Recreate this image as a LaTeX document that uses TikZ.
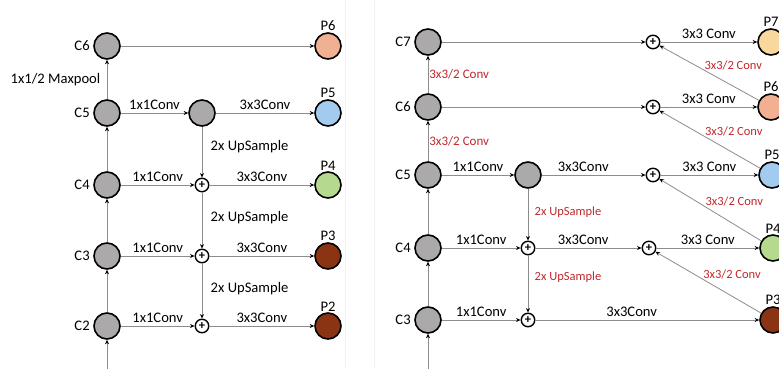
\documentclass[tikz,border=0pt]{standalone}
\usepackage{fontspec}
\setmainfont{Carlito}
\definecolor{NodeGray}{HTML}{ABA9AA}
\definecolor{LineGray}{HTML}{8C8C8C}
\definecolor{ConvRed}{HTML}{C0272D}
\definecolor{PSalmon}{HTML}{F2B093}
\definecolor{PBlue}{HTML}{A2CBEF}
\definecolor{PGreen}{HTML}{B5DA8E}
\definecolor{PBrown}{HTML}{8A3414}
\definecolor{PYellow}{HTML}{F9D79D}
\usetikzlibrary{arrows.meta}

\begin{document}
\begin{tikzpicture}[x=1pt,y=-1pt,>={Stealth[length=4.5pt,width=4pt,color=black]},
    feat/.style={circle,draw,line width=1.6pt,minimum size=26pt,inner sep=0pt,fill=NodeGray},
    add/.style={circle,draw,line width=1.4pt,minimum size=13.5pt,inner sep=0pt,font=\fontsize{12.5}{12.5}\selectfont\bfseries},
    conn/.style={->,draw=LineGray,line width=0.8pt},
    lbl/.style={font=\fontsize{14.6}{16}\selectfont,text=black},
    redlbl/.style={font=\fontsize{12.5}{14}\selectfont,text=ConvRed},
    every label/.style={lbl}]
  \useasboundingbox (0,0) rectangle (779,369);
  \draw[black!5] (345,0) -- (345,369);
  \draw[black!5] (374,0) -- (374,369);
  % FPN
  \node[feat,label=left:C6] (c6) at (107,46) {};
  \node[feat,label=left:C5] (c5) at (107,113) {};
  \node[feat,label=left:C4] (c4) at (107,185) {};
  \node[feat,label=left:C3] (c3) at (107,256) {};
  \node[feat,label=left:C2] (c2) at (107,326) {};
  \coordinate (b) at (107,369);
  \node[feat] (m5) at (202,113) {};
  \node[add] (s4) at (202,185) {+};
  \node[add] (s3) at (202,256) {+};
  \node[add] (s2) at (202,326) {+};
  \node[feat,fill=PSalmon,label={[inner sep=1pt]above:P6}] (p6) at (328,46) {};
  \node[feat,fill=PBlue,label={[inner sep=1pt]above:P5}] (p5) at (328,113) {};
  \node[feat,fill=PGreen,label={[inner sep=1pt]above:P4}] (p4) at (328,185) {};
  \node[feat,fill=PBrown,label={[inner sep=1pt]above:P3}] (p3) at (328,256) {};
  \node[feat,fill=PBrown,label={[inner sep=1pt]above:P2}] (p2) at (328,326) {};
  \draw[conn] (b) -- (c2);
  \draw[conn] (c2) -- (c3);
  \draw[conn] (c3) -- (c4);
  \draw[conn] (c4) -- (c5);
  \draw[conn] (c5) -- node[lbl,left,xshift=-3pt]{1x1/2 Maxpool} (c6);
  \draw[conn] (c6) -- (p6);
  \draw[conn] (c5) -- node[lbl,above]{1x1Conv} (m5);
  \draw[conn] (m5) -- node[lbl,above]{3x3Conv} (p5);
  \draw[conn] (c4) -- node[lbl,above]{1x1Conv} (s4);
  \draw[conn] (s4) -- node[lbl,above]{3x3Conv} (p4);
  \draw[conn] (c3) -- node[lbl,above]{1x1Conv} (s3);
  \draw[conn] (s3) -- node[lbl,above]{3x3Conv} (p3);
  \draw[conn] (c2) -- node[lbl,above]{1x1Conv} (s2);
  \draw[conn] (s2) -- node[lbl,above]{3x3Conv} (p2);
  \draw[conn] (m5) -- node[lbl,right,xshift=5pt,pos=0.4]{2x UpSample} (s4);
  \draw[conn] (s4) -- node[lbl,right,xshift=5pt,pos=0.45]{2x UpSample} (s3);
  \draw[conn] (s3) -- node[lbl,right,xshift=5pt,pos=0.45]{2x UpSample} (s2);
  % PANet-style
  \node[feat,label=left:C7] (d7) at (428,42) {};
  \node[feat,label=left:C6] (d6) at (428,107) {};
  \node[feat,label=left:C5] (d5) at (428,175) {};
  \node[feat,label=left:C4] (d4) at (428,248) {};
  \node[feat,label=left:C3] (d3) at (428,320) {};
  \coordinate (e) at (428,369);
  \node[feat] (n5) at (528,175) {};
  \node[add] (u4) at (528,248) {+};
  \node[add] (u3) at (528,320) {+};
  \node[add] (a7) at (653,42) {+};
  \node[add] (a6) at (653,107) {+};
  \node[add] (a5) at (653,175) {+};
  \node[add] (a4) at (649,248) {+};
  \node[feat,fill=PYellow,label={[inner sep=1pt]above:P7}] (q7) at (771,42) {};
  \node[feat,fill=PSalmon,label={[inner sep=1pt]above:P6}] (q6) at (771,107) {};
  \node[feat,fill=PBlue,label={[inner sep=1pt]above:P5}] (q5) at (772,175) {};
  \node[feat,fill=PGreen,label={[inner sep=1pt]above:P4}] (q4) at (773,248) {};
  \node[feat,fill=PBrown,label={[inner sep=1pt]above:P3}] (q3) at (773,320) {};
  \draw[conn] (e) -- (d3);
  \draw[conn] (d3) -- (d4);
  \draw[conn] (d4) -- (d5);
  \draw[conn] (d5) -- node[redlbl,font=\fontsize{13}{14}\selectfont,right,inner sep=1pt]{3x3/2 Conv} (d6);
  \draw[conn] (d6) -- node[redlbl,font=\fontsize{13}{14}\selectfont,right,inner sep=1pt]{3x3/2 Conv} (d7);
  \draw[conn] (d7) -- (a7);
  \draw[conn] (d6) -- (a6);
  \draw[conn] (d5) -- node[lbl,above]{1x1Conv} (n5);
  \draw[conn] (n5) -- node[lbl,above,pos=0.4]{3x3Conv} (a5);
  \draw[conn] (d4) -- node[lbl,above]{1x1Conv} (u4);
  \draw[conn] (u4) -- node[lbl,above,pos=0.45]{3x3Conv} (a4);
  \draw[conn] (d3) -- node[lbl,above]{1x1Conv} (u3);
  \draw[conn] (u3) -- node[lbl,above,pos=0.43]{3x3Conv} (q3);
  \draw[conn] (n5) -- node[redlbl,right,xshift=3pt,pos=0.45]{2x UpSample} (u4);
  \draw[conn] (u4) -- node[redlbl,right,xshift=3pt,pos=0.38]{2x UpSample} (u3);
  \draw[conn] (a7) -- node[lbl,above]{3x3 Conv} (q7);
  \draw[conn] (a6) -- node[lbl,above]{3x3 Conv} (q6);
  \draw[conn] (a5) -- node[lbl,above]{3x3 Conv} (q5);
  \draw[conn] (a4) -- node[lbl,above]{3x3 Conv} (q4);
  \draw[conn] (q6) -- node[redlbl,pos=0.55,anchor=south west,inner sep=0pt]{3x3/2 Conv} (a7);
  \draw[conn] (q5) -- node[redlbl,pos=0.55,anchor=south west,inner sep=0pt]{3x3/2 Conv} (a6);
  \draw[conn] (q4) -- node[redlbl,pos=0.55,anchor=south west,inner sep=0pt]{3x3/2 Conv} (a5);
  \draw[conn] (q3) -- node[redlbl,pos=0.55,anchor=south west,inner sep=0pt]{3x3/2 Conv} (a4);
\end{tikzpicture}
\end{document}
